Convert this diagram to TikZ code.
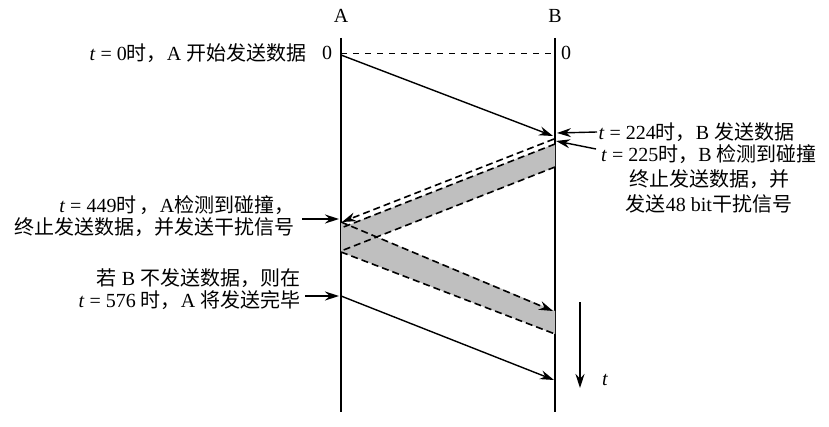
\documentclass[tikz,border=0pt]{standalone}
\usepackage{fontspec}
\setmainfont{Liberation Serif}
\newfontfamily\cjk{Noto Sans CJK SC}
\newcommand{\zh}[1]{{\cjk #1}}
\usetikzlibrary{arrows.meta}
\tikzset{
  lbl/.style={inner sep=0.5pt, font=\fontsize{10}{12.5}\selectfont},
  tip/.style={-{Stealth[length=7pt,width=4.5pt]}},
  jam/.style={dash pattern=on 3.5pt off 2pt, line width=0.8pt},
  band/.style={fill=gray!50, draw=none},
}
\begin{document}
\begin{tikzpicture}[x=0.5pt,y=-0.5pt,line width=0.7pt]
\useasboundingbox (0,0) rectangle (829,427);

% stations
\node[lbl] (A) at (341,16) {A};
\node[lbl] (B) at (555,16) {B};
\coordinate (Atop) at (341,38);
\coordinate (Abot) at (341,412);
\coordinate (Btop) at (555,38);
\coordinate (Bbot) at (555,412);
\draw[line width=0.8pt] (Atop) -- (Abot);
\draw[line width=0.8pt] (Btop) -- (Bbot);

% time zero
\node[lbl] (zA) at (327,53) {0};
\node[lbl] (zB) at (566,53) {0};
\coordinate (A0) at (341,53);
\coordinate (B0) at (555,53);
\draw[dashed, line width=0.4pt] (A0) -- (B0);

% jamming bands
\coordinate (bj1) at (555,144);
\coordinate (bj2) at (555,167);
\coordinate (bj3) at (341,251);
\coordinate (bj4) at (341,228);
\coordinate (aj1) at (341,222);
\coordinate (aj2) at (341,252);
\coordinate (aj3) at (555,334);
\coordinate (aj4) at (555,311);
\fill[band] (bj1) -- (bj2) -- (bj3) -- (bj4) -- cycle;
\fill[band] (aj1) -- (aj2) -- (aj3) -- (aj4) -- cycle;
\draw[jam] (bj1) -- (bj4);
\draw[jam] (bj2) -- (bj3);
\draw[jam] (aj2) -- (aj3);
\coordinate (ajtip) at (553,311);
\draw[jam, tip] (aj1) -- (ajtip);

% frames
\coordinate (Asend) at (341,55);
\coordinate (Brecv) at (553,136);
\draw[tip] (Asend) -- (Brecv);
\coordinate (Bsend) at (554,139);
\coordinate (Arecv) at (342,222);
\draw[jam, tip] (Bsend) -- (Arecv);
\coordinate (Alast) at (341,296);
\coordinate (Bend) at (554,380);
\draw[tip] (Alast) -- (Bend);

% labels
\node[lbl, anchor=east] (l0) at (308,53) {\textit{t} = 0\zh{时，}A \zh{开始发送数据}};

\node[lbl, anchor=west] (l224) at (597,132) {\textit{t} = 224\zh{时，}B \zh{发送数据}};
\coordinate (p224) at (557,133);
\draw[tip] (l224.west) -- (p224);

\node[lbl, align=center] (l225) at (709,179) {\textit{t} = 225\zh{时，}B \zh{检测到碰撞}\\\zh{终止发送数据，并}\\\zh{发送}48 bit\zh{干扰信号}};
\coordinate (q225) at (596,149);
\coordinate (p225) at (556,141);
\draw[tip] (q225) -- (p225);

\node[lbl, align=right, anchor=east, font=\fontsize{10}{11}\selectfont] (l449) at (296,216) {\textit{t} = 449\zh{时}\,\zh{，}A\zh{检测到碰撞，}\\\zh{终止发送数据，并发送干扰信号}};
\coordinate (q449) at (302,219);
\coordinate (p449) at (339,219);
\draw[tip] (q449) -- (p449);

\node[lbl, align=right, anchor=east, font=\fontsize{10}{11}\selectfont] (l576) at (302,289) {\zh{若} B \zh{不发送数据，则在}\\\textit{t} = 576 \zh{时，}A \zh{将发送完毕}};
\coordinate (q576) at (305,296);
\coordinate (p576) at (339,296);
\draw[tip] (q576) -- (p576);

% time axis
\coordinate (t1) at (580,302);
\coordinate (t2) at (580,388);
\draw[tip] (t1) -- (t2);
\node[lbl] (tl) at (605,380) {\textit{t}};
\end{tikzpicture}
\end{document}
